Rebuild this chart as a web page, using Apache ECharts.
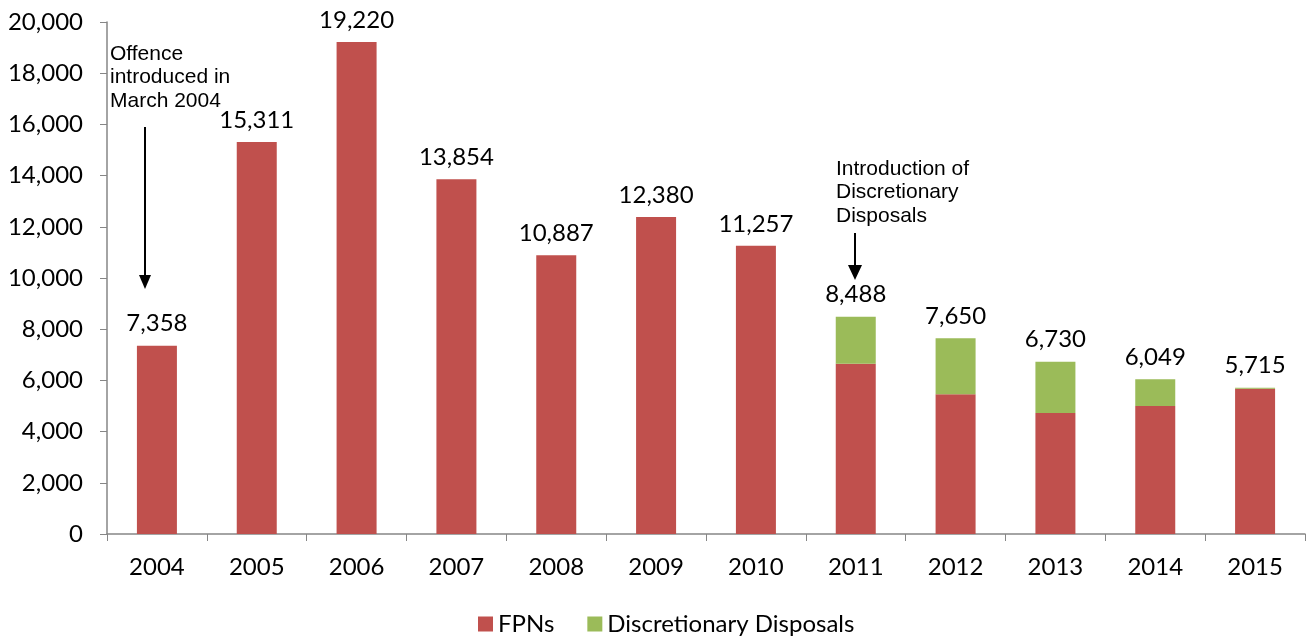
<!DOCTYPE html>
<html>
<head>
<meta charset="utf-8">
<script src="https://cdn.jsdelivr.net/npm/echarts@6/dist/echarts.min.js"></script>
<style>html,body{margin:0;padding:0;background:#fff}#c{width:1308px;height:639px}</style>
</head>
<body>
<div id="c"></div>
<script>
const years = ['2004','2005','2006','2007','2008','2009','2010','2011','2012','2013','2014','2015'];
const fpns = [7358, 15311, 19220, 13854, 10887, 12380, 11257, 6650, 5460, 4730, 5000, 5670];
const disposals = [0, 0, 0, 0, 0, 0, 0, 1838, 2190, 2000, 1049, 45];
const totals = [7358, 15311, 19220, 13854, 10887, 12380, 11257, 8488, 7650, 6730, 6049, 5715];
const yTicks = [0, 2000, 4000, 6000, 8000, 10000, 12000, 14000, 16000, 18000, 20000];

const fontLabel = 'Lato, "Open Sans", sans-serif';
const fontNote = '"Liberation Sans", Arial, sans-serif';
const chart = echarts.init(document.getElementById('c'));
chart.setOption({
  animation: false,
  grid: { left: 107, right: 3, top: 22, bottom: 105, containLabel: false },
  legend: {
    data: ['FPNs', 'Discretionary Disposals'],
    bottom: -2, left: 473,
    itemWidth: 15, itemHeight: 15, itemGap: 33,
    icon: 'rect',
    textStyle: { fontFamily: fontLabel, fontSize: 24, color: '#000' }
  },
  xAxis: {
    type: 'category', data: years,
    axisLine: { lineStyle: { color: '#868686', width: 1.5 } },
    axisTick: { show: true, length: 7, alignWithLabel: false, lineStyle: { color: '#868686' } },
    axisLabel: { fontFamily: fontLabel, fontSize: 24, color: '#000', margin: 21 }
  },
  yAxis: {
    type: 'value', min: 0, max: 20000, interval: 2000,
    splitLine: { show: false },
    axisLine: { show: true, lineStyle: { color: '#868686', width: 1.5 } },
    axisTick: { show: true, length: 7, inside: false, lineStyle: { color: '#868686' } },
    axisLabel: {
      fontFamily: fontLabel, fontSize: 24, color: '#000', margin: 24,
      formatter: v => yTicks.includes(v) ? v.toLocaleString('en-US') : ''
    }
  },
  series: [
    { name: 'FPNs', type: 'bar', stack: 'a', data: fpns, barWidth: 40,
      itemStyle: { color: '#C0504D' } },
    { name: 'Discretionary Disposals', type: 'bar', stack: 'a', data: disposals, barWidth: 40,
      itemStyle: { color: '#9BBB59' } },
    { name: 'Total', type: 'bar', data: totals, barWidth: 40, barGap: '-100%', silent: true,
      itemStyle: { color: 'rgba(0,0,0,0)' },
      label: { show: true, position: 'top', distance: 10, fontFamily: fontLabel, fontSize: 24, color: '#000',
        formatter: p => p.value.toLocaleString('en-US') } }
  ],
  graphic: [
    { type: 'text', left: 110, top: 42, style: { text: 'Offence\nintroduced in\nMarch 2004', font: '21px ' + fontNote, fill: '#000', lineHeight: 23.5 } },
    { type: 'line', shape: { x1: 145, y1: 127, x2: 145, y2: 276 }, style: { stroke: '#000', lineWidth: 2 } },
    { type: 'polygon', shape: { points: [[139, 275], [151, 275], [145, 289]] }, style: { fill: '#000' } },
    { type: 'text', left: 836, top: 157, style: { text: 'Introduction of\nDiscretionary\nDisposals', font: '21px ' + fontNote, fill: '#000', lineHeight: 23.5 } },
    { type: 'line', shape: { x1: 855, y1: 233, x2: 855, y2: 267 }, style: { stroke: '#000', lineWidth: 2 } },
    { type: 'polygon', shape: { points: [[848, 265], [862, 265], [855, 280]] }, style: { fill: '#000' } }
  ]
});
</script>
</body>
</html>
